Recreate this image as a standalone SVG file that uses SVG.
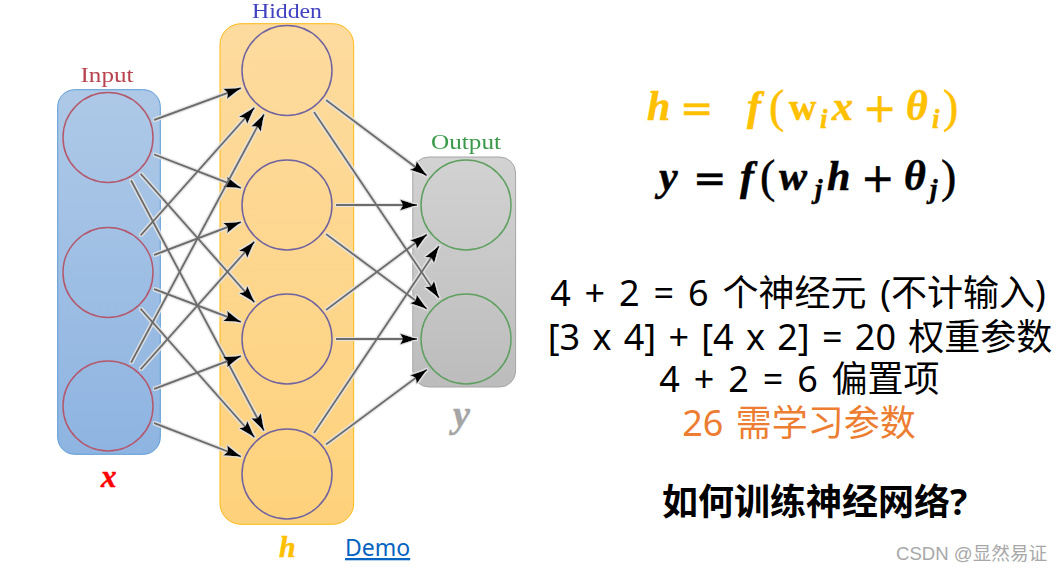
<svg xmlns="http://www.w3.org/2000/svg" width="1063" height="573" viewBox="0 0 1063 573">
<style>
.n{stroke-width:1.5;fill:none;filter:url(#soft)}
.ni{stroke:#b4586c}.nh{stroke:#6f63a0}.no{stroke:#5fa060}
.lab{font-family:"Liberation Serif",serif;font-size:22px;text-anchor:middle;filter:url(#soft)}
.m{font-family:"Liberation Serif",serif;font-weight:bold;font-style:italic;stroke-width:.5}
.sym{font-family:"DejaVu Sans",sans-serif;font-style:normal;font-weight:normal;font-size:40px}
.par{font-style:normal;font-weight:normal;font-size:46px}
.up{font-style:normal;font-size:38px}
.s{font-size:27px}
.t{font-family:"Noto Sans","Noto Sans CJK SC",sans-serif;font-size:36px;text-anchor:middle;fill:#000}
#edges line{stroke:#6c6c6c;stroke-width:2;marker-end:url(#a)}
</style>
<defs>
<linearGradient id="gi" x1="0" y1="0" x2="0" y2="1"><stop offset="0" stop-color="#aec9e7"/><stop offset="1" stop-color="#8eb4e1"/></linearGradient>
<linearGradient id="gh" x1="0" y1="0" x2="0" y2="1"><stop offset="0" stop-color="#fddb9f"/><stop offset="1" stop-color="#fed27c"/></linearGradient>
<linearGradient id="go" x1="0" y1="0" x2="0" y2="1"><stop offset="0" stop-color="#d2d2d2"/><stop offset="1" stop-color="#bcbcbc"/></linearGradient>
<marker id="a" markerUnits="userSpaceOnUse" markerWidth="20" markerHeight="14" refX="17" refY="7" orient="auto"><path d="M0 1.5L17 7L0 12.5L3 7Z" fill="#000"/></marker>
<filter id="soft"><feGaussianBlur stdDeviation=".35"/></filter>
<filter id="halo" x="-5%" y="-5%" width="110%" height="110%"><feMorphology in="SourceAlpha" operator="dilate" radius="1" result="d"/><feFlood flood-color="#e4e4e4" flood-opacity=".9"/><feComposite in2="d" operator="in" result="w"/><feGaussianBlur in="w" stdDeviation=".5" result="b"/><feGaussianBlur in="SourceGraphic" stdDeviation=".35" result="c"/><feMerge><feMergeNode in="b"/><feMergeNode in="c"/></feMerge></filter>
</defs>
<rect width="1063" height="573" fill="#fff"/>
<g id="layer-input"><rect x="57.7" y="89.7" width="102.6" height="364.6" rx="17" fill="url(#gi)" stroke="#5b9bd5"/><text class="lab" x="107" y="82" fill="#b8434f" textLength="53" lengthAdjust="spacingAndGlyphs">Input</text></g>
<g id="layer-hidden"><rect x="220" y="23.7" width="133.7" height="500.6" rx="21" fill="url(#gh)" stroke="#fdb913"/><text class="lab" x="287" y="18" fill="#4040c0" textLength="70" lengthAdjust="spacingAndGlyphs">Hidden</text></g>
<g id="layer-output"><rect x="412.8" y="157" width="102.8" height="230" rx="16" fill="url(#go)" stroke="#a5a5a5"/><text class="lab" x="466" y="149" fill="#3a9a4a" textLength="70" lengthAdjust="spacingAndGlyphs">Output</text></g>
<g id="edges" filter="url(#halo)">
<line x1="154" y1="120" x2="241" y2="88"/>
<line x1="154" y1="154.4" x2="241" y2="188"/>
<line x1="140.5" y1="173.7" x2="254.5" y2="302.3"/>
<line x1="131" y1="180.3" x2="264" y2="430.7"/>
<line x1="140.6" y1="235.4" x2="254.4" y2="107.6"/>
<line x1="154" y1="255" x2="241" y2="222"/>
<line x1="154" y1="289" x2="241" y2="322"/>
<line x1="140.5" y1="308.7" x2="254.5" y2="437.3"/>
<line x1="131" y1="362.8" x2="264" y2="114.2"/>
<line x1="140.6" y1="369.4" x2="254.4" y2="241.6"/>
<line x1="154" y1="389" x2="241" y2="356"/>
<line x1="154" y1="423" x2="241" y2="456.6"/>
<line x1="326" y1="100" x2="426.8" y2="175.6"/>
<line x1="314" y1="112" x2="439" y2="298"/>
<line x1="336" y1="205" x2="417" y2="205"/>
<line x1="326" y1="234" x2="427" y2="309"/>
<line x1="326" y1="310" x2="427" y2="234.4"/>
<line x1="336" y1="339" x2="417" y2="339"/>
<line x1="314" y1="433" x2="439" y2="246"/>
<line x1="326" y1="444.5" x2="427" y2="369.5"/>
</g>
<g id="i1"><circle class="n ni" cx="108" cy="137.5" r="45"/></g>
<g id="i2"><circle class="n ni" cx="108" cy="272.5" r="45"/></g>
<g id="i3"><circle class="n ni" cx="108" cy="406" r="45"/></g>
<g id="h1"><circle class="n nh" cx="287" cy="70.5" r="45"/></g>
<g id="h2"><circle class="n nh" cx="287" cy="205" r="45"/></g>
<g id="h3"><circle class="n nh" cx="287" cy="339" r="45"/></g>
<g id="h4"><circle class="n nh" cx="287" cy="474" r="45"/></g>
<g id="o1"><circle class="n no" cx="466" cy="205" r="45"/></g>
<g id="o2"><circle class="n no" cx="466" cy="339" r="45"/></g>
<text class="m" x="101" y="487" font-size="31" fill="#f00" stroke="#f00">x</text>
<text class="m" x="279" y="557" font-size="30" fill="#ffc000" stroke="#ffc000">h</text>
<text class="m" x="453" y="427" font-size="38" fill="#a5a5a5" stroke="#a5a5a5">y</text>
<text x="345" y="556" font-family="Noto Sans,sans-serif" font-size="23" fill="#0563c1" text-decoration="underline">Demo</text>
<text class="m" y="120" font-size="42" fill="#ffc000" stroke="#ffc000"><tspan x="647">h</tspan><tspan x="680" y="122" class="sym">=</tspan><tspan x="747" y="120">f</tspan><tspan x="769" y="122" class="par">(</tspan><tspan x="789" y="120" class="up">w</tspan><tspan x="820" y="128" class="s">i</tspan><tspan x="832" y="120">x</tspan><tspan x="863" y="122" class="sym">+</tspan><tspan x="906" y="120">θ</tspan><tspan x="932" y="128" class="s">i</tspan><tspan x="943" y="122" class="par">)</tspan></text>
<text class="m" y="190" font-size="42" fill="#000" stroke="#000"><tspan x="659">y</tspan><tspan x="693" y="192" class="sym">=</tspan><tspan x="740" y="190">f</tspan><tspan x="760" y="192" class="par">(</tspan><tspan x="779" y="190">w</tspan><tspan x="815" y="198" class="s">j</tspan><tspan x="827" y="190">h</tspan><tspan x="861" y="192" class="sym">+</tspan><tspan x="904" y="190">θ</tspan><tspan x="930" y="198" class="s">j</tspan><tspan x="941" y="192" class="par">)</tspan></text>
<text class="t" x="798" y="306" word-spacing="4.5">4 + 2 = 6 个神经元 (不计输入)</text>
<text class="t" x="800" y="350" word-spacing="2.9">[3 x 4] + [4 x 2] = 20 权重参数</text>
<text class="t" x="799.5" y="392" word-spacing="4.5">4 + 2 = 6 偏置项</text>
<text class="t" x="799" y="436" word-spacing="3" style="fill:#ed7d31">26 需学习参数</text>
<text class="t" x="814.5" y="515" font-weight="bold">如何训练神经网络?</text>
<text x="896" y="560" font-family="Liberation Sans,Noto Sans CJK SC,sans-serif" font-size="18.6" fill="#a8a8a8">CSDN @显然易证</text>
</svg>
